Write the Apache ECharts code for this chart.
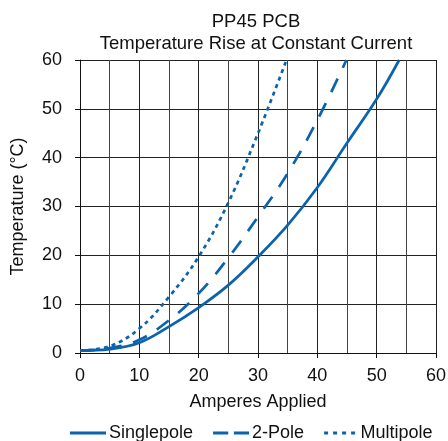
<!DOCTYPE html>
<html>
<head>
<meta charset="utf-8">
<script src="https://cdn.jsdelivr.net/npm/echarts@6/dist/echarts.min.js"></script>
<style>
  html, body { margin: 0; padding: 0; background: #fff; }
  #chart { width: 448px; height: 441px; }
</style>
</head>
<body>
<div id="chart"></div>
<script>
// values
var ampsSingle = [0, 5, 10, 15, 20, 25, 30, 35, 40, 45, 50, 53.8];
var tempSingle = [0.5, 0.8, 2.1, 5.4, 9.3, 13.9, 19.7, 26.2, 33.9, 43.0, 52.0, 60];
var ampsTwo = [0, 5, 10, 15, 20, 25, 30, 35, 40, 44.9];
var tempTwo = [0.5, 1, 2.7, 6.7, 12.2, 19.5, 27.9, 36.8, 47.7, 60];
var ampsMulti = [0, 5, 10, 15, 20, 25, 30, 34.8];
var tempMulti = [0.5, 1.4, 5, 11.5, 19.7, 30.8, 45, 60];
var seriesNames = ['Singlepole', '2-Pole', 'Multipole'];

(function() {
  var chart = echarts.init(document.getElementById('chart'));
  var font = 'Liberation Sans, Arial, sans-serif';
  var blue = '#0b63ad';
  var fs = 18;

  function pairs(xs, ys) {
    return xs.map((x, i) => [x, ys[i]]);
  }

  function makeSeries(name, xs, ys, type) {
    return {
      name: name,
      type: 'line',
      smooth: 0.4,
      showSymbol: false,
      symbol: 'none',
      data: pairs(xs, ys),
      lineStyle: { color: blue, width: 2.7, type: type },
      itemStyle: { color: blue }
    };
  }

  var option = {
    animation: false,
    textStyle: { fontFamily: font },
    title: {
      text: 'PP45 PCB\nTemperature Rise at Constant Current',
      left: 251,
      top: 6,
      textAlign: 'center',
      textStyle: { fontSize: 18.5, fontWeight: 'normal', color: '#111', lineHeight: 22, fontFamily: font }
    },
    legend: {
      top: 419,
      left: 65,
      itemWidth: 36,
      itemHeight: 3,
      itemGap: 20,
      itemStyle: { color: blue },
      data: [
        { name: seriesNames[0], icon: 'rect' },
        { name: seriesNames[1], icon: 'path://M0,0H16V3H0Z M22,0H38V3H22Z' },
        { name: seriesNames[2], icon: 'path://M0,0H4V3H0Z M9,0H13V3H9Z M18,0H22V3H18Z M27,0H31V3H27Z' }
      ],
      textStyle: { fontSize: fs, color: '#111', fontFamily: font, padding: [0, 0, 0, -2] }
    },
    grid: { left: 80, right: 12, top: 60, bottom: 88, outerBoundsMode: 'none' },
    xAxis: {
      type: 'value',
      min: 0,
      max: 60,
      interval: 10,
      name: 'Amperes Applied',
      nameLocation: 'middle',
      nameGap: 40,
      nameTextStyle: { fontSize: fs, color: '#111' },
      axisLine: { lineStyle: { color: '#111', width: 1 } },
      axisTick: { show: true, length: 5, lineStyle: { color: '#111' } },
      axisLabel: { fontSize: fs, color: '#111', margin: 14 },
      splitLine: { show: true, lineStyle: { color: '#222', width: 1 } },
      minorTick: { show: false, splitNumber: 2 },
      minorSplitLine: { show: true, lineStyle: { color: '#444', width: 1 } }
    },
    yAxis: {
      type: 'value',
      min: 0,
      max: 60,
      interval: 10,
      name: 'Temperature (°C)',
      nameLocation: 'middle',
      nameGap: 53,
      nameTextStyle: { fontSize: fs, color: '#111' },
      axisLine: { show: true, lineStyle: { color: '#111', width: 1 } },
      axisTick: { show: true, length: 5, lineStyle: { color: '#111' } },
      axisLabel: { fontSize: fs, color: '#111', margin: 18 },
      splitLine: { show: true, lineStyle: { color: '#222', width: 1 } }
    },
    series: [
      makeSeries(seriesNames[0], ampsSingle, tempSingle, 'solid'),
      makeSeries(seriesNames[1], ampsTwo, tempTwo, [15, 12]),
      makeSeries(seriesNames[2], ampsMulti, tempMulti, [4, 4])
    ]
  };
  chart.setOption(option);
})()
</script>
</body>
</html>
